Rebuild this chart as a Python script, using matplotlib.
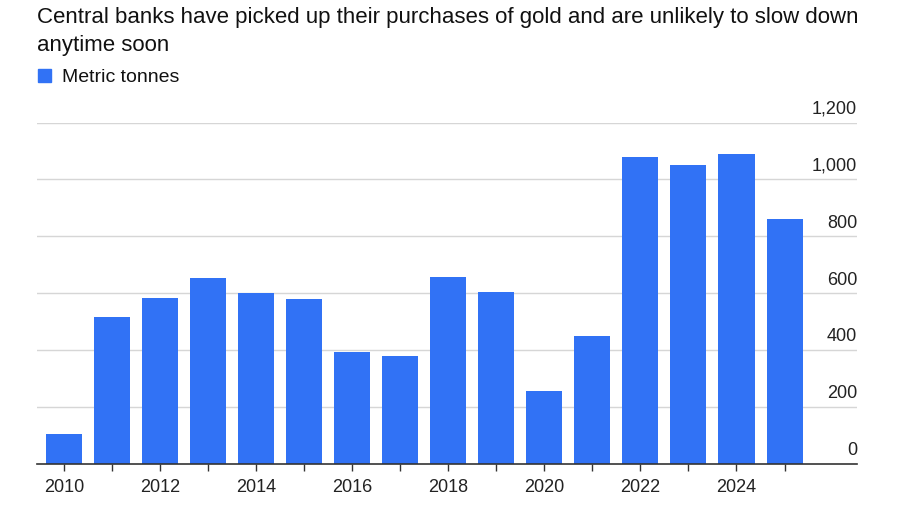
import matplotlib.pyplot as plt

years = list(range(2010, 2026))
tonnes = [105, 515, 582, 652, 602, 579, 394, 380, 657, 604, 256, 450, 1078, 1050, 1090, 862]
y_ticks = [0, 200, 400, 600, 800, 1000, 1200]
y_labels = ['0', '200', '400', '600', '800', '1,000', '1,200']
x_labels = [2010, 2012, 2014, 2016, 2018, 2020, 2022, 2024]

title = ('Central banks have picked up their purchases of gold and are unlikely to slow down\n'
         'anytime soon')
bar_color = '#3172f5'

plt.rcParams['font.family'] = ['Liberation Sans', 'DejaVu Sans']

fig = plt.figure(figsize=(9, 5.1), dpi=100)
ax = fig.add_axes([37 / 900, 45 / 510, 820 / 900, (465 - 123.5) / 510])

ax.bar(years, tonnes, width=0.75, color=bar_color, zorder=2)

ax.set_xlim(2009.43, 2026.51)
ax.set_ylim(0, 1200)

# gridlines with labels sitting on top, right-aligned
for v, lab in zip(y_ticks, y_labels):
    if v > 0:
        ax.axhline(v, color='#d6d6d6', linewidth=1, zorder=1)
    ax.text(1.0, v + 20, lab, transform=ax.get_yaxis_transform(), ha='right',
            va='bottom', fontsize=13, color='#222222', clip_on=False)
ax.set_yticks([])

ax.set_xticks(years, minor=True)
ax.set_xticks(x_labels)
ax.set_xticklabels([str(x) for x in x_labels], fontsize=13, color='#222222')
ax.tick_params(axis='x', which='both', length=5, width=1, color='#333333', direction='out', pad=5)

for side in ['top', 'right', 'left']:
    ax.spines[side].set_visible(False)
ax.spines['bottom'].set_color('#333333')
ax.spines['bottom'].set_linewidth(1.2)
ax.spines['bottom'].set_zorder(3)

fig.text(37 / 900, 1 - 7 / 510, title, ha='left', va='top', fontsize=16,
         color='#111111', linespacing=1.42)

fig.patches.append(plt.Rectangle((38 / 900, 1 - 83 / 510), 13 / 900, 13 / 510,
                                 transform=fig.transFigure, color=bar_color))
fig.text(62 / 900, 1 - 77 / 510, 'Metric tonnes', ha='left', va='center', fontsize=14,
         color='#111111')

fig.savefig('out.png', dpi=100, facecolor='white')
